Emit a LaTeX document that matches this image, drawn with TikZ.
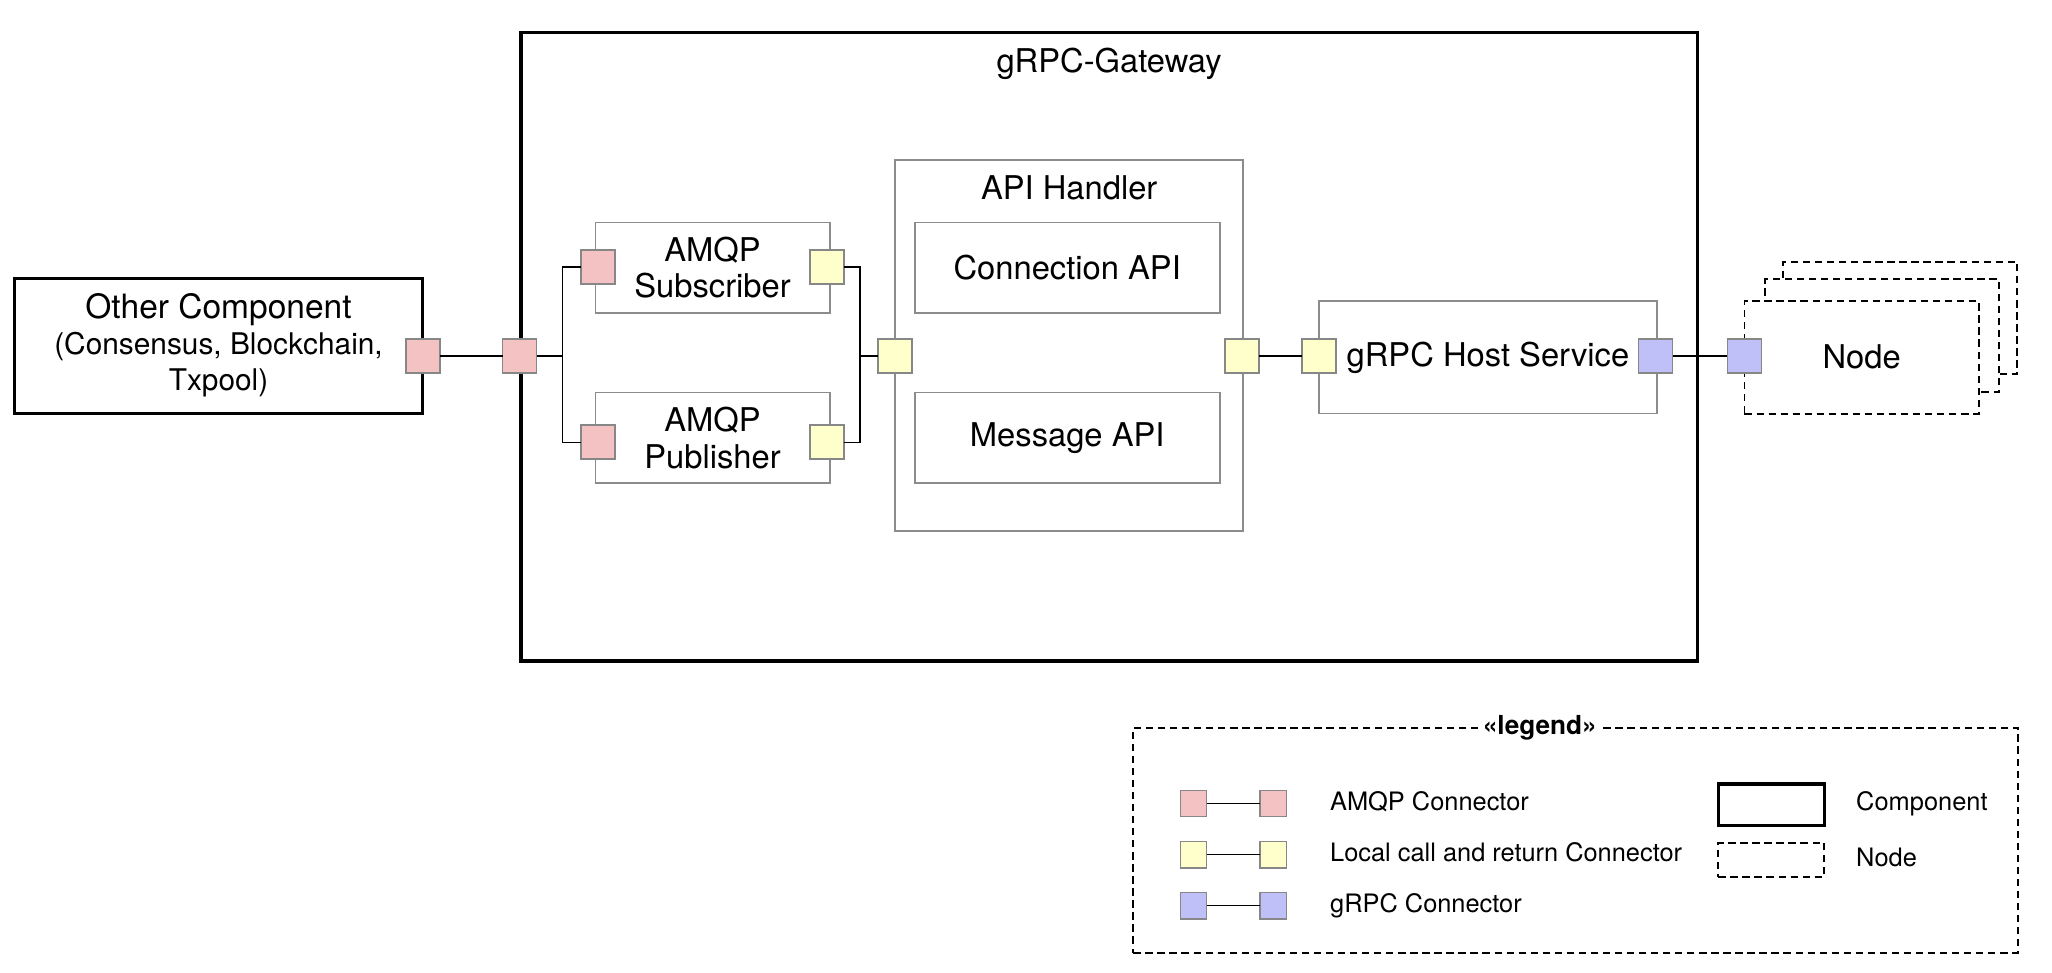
\documentclass[tikz,border=0pt]{standalone}
\usepackage{fontspec}
\setmainfont{TeX Gyre Heros}
\newcommand\mainfs{\fontsize{12.5pt}{14pt}\selectfont}
\newcommand\ocfs{\fontsize{12.8pt}{14pt}\selectfont}
\newcommand\subfs{\fontsize{11.4pt}{13pt}\selectfont}
\newcommand\legfs{\fontsize{9.7pt}{11pt}\selectfont}
\definecolor{amqp}{RGB}{244,194,194}
\definecolor{localc}{RGB}{255,255,204}
\definecolor{grpcc}{RGB}{192,192,248}
\definecolor{portgray}{RGB}{135,135,135}
\definecolor{partgray}{RGB}{140,140,140}
\tikzset{
  comp/.style={draw=black, line width=1.3pt, fill=white, inner sep=0pt},
  part/.style={draw=partgray, line width=0.65pt, fill=white, inner sep=0pt, font=\mainfs, align=center},
  dbox/.style={draw=black, line width=0.75pt, dash pattern=on 2.8pt off 1.8pt, fill=white, inner sep=0pt},
  port/.style={draw=portgray, line width=0.65pt, minimum size=13pt, inner sep=0pt, outer sep=0pt},
  lport/.style={port, minimum size=10pt},
  pk/.style={fill=amqp},
  yl/.style={fill=localc},
  bl/.style={fill=grpcc},
  wire/.style={draw=black, line width=0.55pt},
  txt/.style={inner sep=0pt, font=\mainfs},
  legtxt/.style={inner sep=0pt, font=\legfs, anchor=mid west}
}
\begin{document}
\begin{tikzpicture}[x=0.5pt,y=-0.5pt]
\useasboundingbox (0,0) rectangle (1568,743);

% gateway
\node[comp, minimum width=449.5pt, minimum height=240pt] (gw) at (847.5,265) {};
\node[txt, anchor=mid] (gwt) at (847.5,50) {gRPC-Gateway};

% other component
\node[comp, minimum width=156pt, minimum height=51.5pt] (oc) at (167,264.5) {};
\node[txt, font=\ocfs, anchor=mid] (oc1) at (167,238) {Other Component};
\node[txt, font=\subfs, anchor=mid] (oc2) at (167,266) {(Consensus, Blockchain,};
\node[txt, font=\subfs, anchor=mid] (oc3) at (167,293) {Txpool)};

% AMQP parts
\node[part, minimum width=89.5pt, minimum height=34.5pt] (sub) at (544.5,204.5) {AMQP\\Subscriber};
\node[part, minimum width=89.5pt, minimum height=34.5pt] (pub) at (544.5,334.5) {AMQP\\Publisher};

% API handler
\node[part, minimum width=133pt, minimum height=142pt] (api) at (817,264) {};
\node[txt, anchor=mid] (apit) at (817,147) {API Handler};
\node[part, minimum width=116.5pt, minimum height=34.5pt] (conn) at (815.5,204.5) {Connection API};
\node[part, minimum width=116.5pt, minimum height=34.5pt] (msg) at (815.5,334.5) {Message API};

% host service
\node[part, minimum width=129pt, minimum height=43pt] (host) at (1137,273) {};
\node[txt, anchor=mid] (hostt) at (1137,275) {gRPC Host Service};

% nodes (stack)
\node[dbox, minimum width=89.5pt, minimum height=43pt] (n3) at (1452,243) {};
\node[dbox, minimum width=89.5pt, minimum height=43pt] (n2) at (1438,256.5) {};
\node[dbox, minimum width=89.5pt, minimum height=43pt, font=\mainfs] (n1) at (1422.5,273) {Node};

% ports
\node[port, pk] (p1) at (323,272) {};
\node[port, pk] (p2) at (397,272) {};
\node[port, pk] (subL) at (457,204) {};
\node[port, yl] (subR) at (632,204) {};
\node[port, pk] (pubL) at (457,338) {};
\node[port, yl] (pubR) at (632,338) {};
\node[port, yl] (apiL) at (684,272) {};
\node[port, yl] (apiR) at (949,272) {};
\node[port, yl] (hostL) at (1008,272) {};
\node[port, bl] (hostR) at (1265,272) {};
\node[port, bl] (nodeP) at (1333,272) {};

\coordinate (jl) at (430,272);
\coordinate (jr) at (657,272);

% wires
\draw[wire] (p1.east) -- (p2.west);
\draw[wire] (p2.east) -- (jl);
\draw[wire] (subL.west) -| (jl) |- (pubL.west);
\draw[wire] (subR.east) -| (jr) |- (pubR.east);
\draw[wire] (jr) -- (apiL.west);
\draw[wire] (apiR.east) -- (hostL.west);
\draw[wire] (hostR.east) -- (nodeP.west);

% legend
\node[dbox, minimum width=338pt, minimum height=86pt] (leg) at (1204,642) {};
\node[fill=white, inner sep=2pt, font=\fontsize{10pt}{12pt}\selectfont\bfseries] (legt) at (1176.6,556) {«legend»};

\node[lport, pk] (la1) at (912,614) {};
\node[lport, pk] (la2) at (973,614) {};
\node[lport, yl] (lb1) at (912,653) {};
\node[lport, yl] (lb2) at (973,653) {};
\node[lport, bl] (lc1) at (912,692) {};
\node[lport, bl] (lc2) at (973,692) {};
\draw[wire] (la1.east) -- (la2.west);
\draw[wire] (lb1.east) -- (lb2.west);
\draw[wire] (lc1.east) -- (lc2.west);
\node[legtxt] (lat) at (1016,614) {AMQP Connector};
\node[legtxt] (lbt) at (1016,653) {Local call and return Connector};
\node[legtxt] (lct) at (1016,692) {gRPC Connector};

\node[comp, minimum width=40.5pt, minimum height=16pt] (lcomp) at (1353.5,615) {};
\node[legtxt] (lcompt) at (1418,614) {Component};
\node[dbox, minimum width=40.5pt, minimum height=13pt] (lnode) at (1353.5,657) {};
\node[legtxt] (lnodet) at (1418,657) {Node};
\end{tikzpicture}
\end{document}
